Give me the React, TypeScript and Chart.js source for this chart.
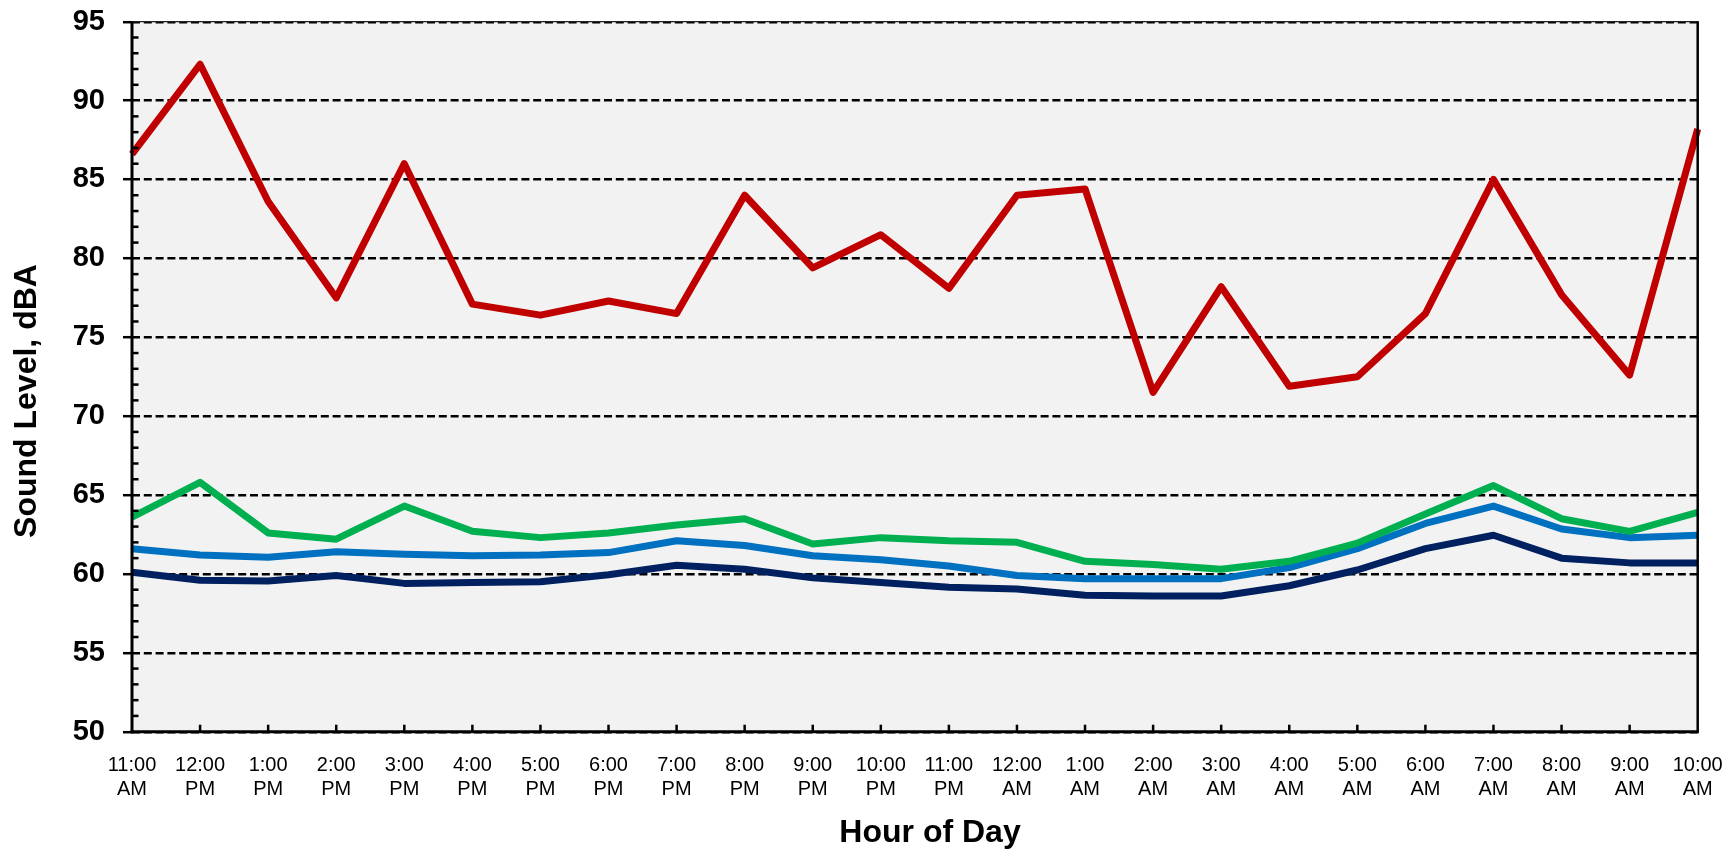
import React, { useEffect, useRef } from "react";
import { Chart, registerables } from "chart.js";

Chart.register(...registerables);

const timeLabels = ["11:00", "12:00", "1:00", "2:00", "3:00", "4:00", "5:00", "6:00", "7:00", "8:00", "9:00", "10:00", "11:00", "12:00", "1:00", "2:00", "3:00", "4:00", "5:00", "6:00", "7:00", "8:00", "9:00", "10:00"];
const periodLabels = ["AM", "PM", "PM", "PM", "PM", "PM", "PM", "PM", "PM", "PM", "PM", "PM", "PM", "AM", "AM", "AM", "AM", "AM", "AM", "AM", "AM", "AM", "AM", "AM"];

const redSeries = [86.6, 92.3, 83.6, 77.5, 86.0, 77.1, 76.4, 77.3, 76.5, 84.0, 79.4, 81.5, 78.1, 84.0, 84.4, 71.5, 78.2, 71.9, 72.5, 76.5, 85.0, 77.7, 72.6, 88.2];
const greenSeries = [63.6, 65.8, 62.6, 62.2, 64.3, 62.7, 62.3, 62.6, 63.1, 63.5, 61.9, 62.3, 62.1, 62.0, 60.8, 60.6, 60.3, 60.8, 61.95, 63.8, 65.6, 63.5, 62.7, 63.9];
const blueSeries = [61.6, 61.2, 61.05, 61.4, 61.25, 61.15, 61.2, 61.35, 62.1, 61.8, 61.15, 60.9, 60.5, 59.9, 59.7, 59.7, 59.7, 60.4, 61.6, 63.2, 64.3, 62.85, 62.3, 62.45];
const navySeries = [60.1, 59.6, 59.55, 59.9, 59.4, 59.45, 59.5, 59.95, 60.55, 60.3, 59.75, 59.45, 59.15, 59.05, 58.65, 58.6, 58.6, 59.25, 60.25, 61.6, 62.45, 61.0, 60.7, 60.7];

const yMin = 50;
const yMax = 95;
const yStep = 5;
const xTitle = "Hour of Day";
const yTitle = "Sound Level, dBA";

const FONT = '"Liberation Sans", Arial, Helvetica, sans-serif';
const W = 1727;
const H = 851;
const AREA_TOP = 21.7;
const AREA_BOTTOM = 731.7;
const AREA_LEFT = 132;
const AREA_RIGHT = 1697.7;

const decorPlugin = {
  id: "decor",
  beforeDraw(chart: any) {
    const { ctx, chartArea } = chart;
    ctx.save();
    ctx.fillStyle = "#F2F2F2";
    ctx.fillRect(chartArea.left, chartArea.top, chartArea.right - chartArea.left, chartArea.bottom - chartArea.top);
    ctx.restore();
  },
  afterDatasetsDraw(chart: any) {
    const { ctx, chartArea, scales } = chart;
    const { left, right, top, bottom } = chartArea;
    const ys = scales.y;
    const xs = scales.x;
    ctx.save();
    ctx.strokeStyle = "#000";
    ctx.setLineDash([]);
    ctx.lineWidth = 2.5;
    for (let v = yMin + 1; v < yMax; v++) {
      if (v % yStep === 0) continue;
      const y = ys.getPixelForValue(v);
      ctx.beginPath();
      ctx.moveTo(left, y);
      ctx.lineTo(left + 6.5, y);
      ctx.stroke();
    }
    for (let i = 1; i < timeLabels.length - 1; i++) {
      const x = xs.getPixelForValue(i);
      ctx.beginPath();
      ctx.moveTo(x, bottom);
      ctx.lineTo(x, bottom - 7);
      ctx.stroke();
    }
    ctx.lineWidth = 1.2;
    ctx.strokeStyle = "#222";
    ctx.beginPath();
    ctx.moveTo(left, top);
    ctx.lineTo(right, top);
    ctx.stroke();
    ctx.strokeStyle = "#000";
    ctx.lineWidth = 2.5;
    ctx.beginPath();
    ctx.moveTo(right, top - 0.5);
    ctx.lineTo(right, bottom);
    ctx.stroke();
    ctx.lineWidth = 3;
    ctx.beginPath();
    ctx.moveTo(left, top);
    ctx.lineTo(left, bottom + 1.5);
    ctx.stroke();
    ctx.beginPath();
    ctx.moveTo(left - 1.5, bottom);
    ctx.lineTo(right + 1.2, bottom);
    ctx.stroke();
    ctx.restore();
  },
  afterDraw(chart: any) {
    const { ctx } = chart;
    ctx.save();
    ctx.fillStyle = "#000";
    ctx.font = `bold 32px ${FONT}`;
    ctx.textAlign = "center";
    ctx.textBaseline = "middle";
    ctx.fillText(xTitle, 930, 833);
    ctx.translate(27, 401);
    ctx.rotate(-Math.PI / 2);
    ctx.fillText(yTitle, 0, 0);
    ctx.restore();
  },
};

export default function App() {
  const canvasRef = useRef<HTMLCanvasElement | null>(null);

  useEffect(() => {
    const canvas = canvasRef.current;
    if (!canvas) return;
    const labels = timeLabels.map((t, i) => [t, periodLabels[i]]);
    const mk = (data: number[], color: string) => ({
      data,
      borderColor: color,
      backgroundColor: color,
      borderWidth: 7,
      pointRadius: 0,
      pointHoverRadius: 0,
      tension: 0,
      fill: false,
      borderJoinStyle: "round" as const,
      borderCapStyle: "butt" as const,
    });
    const chart = new Chart(canvas, {
      type: "line",
      data: {
        labels,
        datasets: [
          mk(redSeries, "#C00000"),
          mk(greenSeries, "#00B050"),
          mk(blueSeries, "#0070C0"),
          mk(navySeries, "#002060"),
        ],
      },
      options: {
        responsive: false,
        animation: false,
        devicePixelRatio: 1,
        layout: { autoPadding: false, padding: { top: AREA_TOP, right: W - AREA_RIGHT, left: 0, bottom: 0 } },
        plugins: { legend: { display: false }, tooltip: { enabled: false }, title: { display: false } },
        scales: {
          x: {
            type: "category",
            offset: false,
            grid: { display: false },
            border: { display: false },
            ticks: {
              color: "#000",
              font: { family: FONT, size: 20, lineHeight: 1.2 },
              padding: 13.3,
              maxRotation: 0,
              minRotation: 0,
              autoSkip: false,
            },
            afterFit(scale: any) {
              scale.height = H - AREA_BOTTOM;
              scale.paddingLeft = 0;
              scale.paddingRight = 0;
            },
          },
          y: {
            type: "linear",
            min: yMin,
            max: yMax,
            grid: {
              display: true,
              color: "#000",
              lineWidth: 2.4,
              drawTicks: true,
              tickLength: 9,
              tickColor: "#000",
              tickWidth: 2.5,
              tickBorderDash: [],
            },
            border: { display: false, dash: [8, 3.8] },
            ticks: {
              stepSize: yStep,
              color: "#000",
              font: { family: FONT, size: 29, weight: "bold" },
              padding: 18,
            },
            afterFit(scale: any) {
              scale.width = AREA_LEFT;
              scale.paddingTop = 0;
              scale.paddingBottom = 0;
            },
          },
        },
      },
      plugins: [decorPlugin],
    } as any);
    return () => chart.destroy();
  }, []);

  return (
    <div style={{ position: "fixed", left: 0, top: 0, width: W, height: H, background: "#fff" }}>
      <canvas ref={canvasRef} width={W} height={H} style={{ display: "block", width: W, height: H }} />
    </div>
  );
}
